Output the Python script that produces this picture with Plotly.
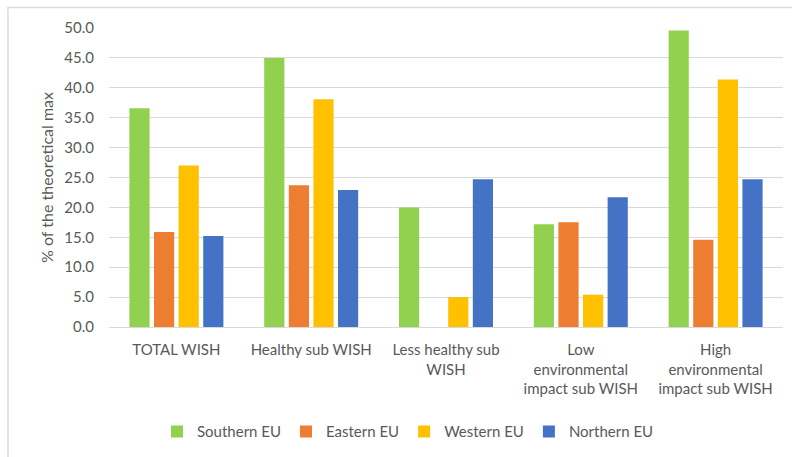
import plotly.graph_objects as go

categories = ["TOTAL WISH", "Healthy sub WISH", "Less healthy sub<br>WISH",
              "Low<br>environmental<br>impact sub WISH", "High<br>environmental<br>impact sub WISH"]
series_names = ["Southern EU", "Eastern EU", "Western EU", "Northern EU"]
southern = [36.6, 45.0, 20.0, 17.2, 49.6]
eastern = [15.9, 23.7, 0.0, 17.5, 14.6]
western = [27.0, 38.1, 5.0, 5.4, 41.4]
northern = [15.2, 22.9, 24.7, 21.7, 24.7]
colors = ["#92D050", "#ED7D31", "#FFC000", "#4472C4"]
y_ticks = [0, 5, 10, 15, 20, 25, 30, 35, 40, 45, 50]

FONT = "Lato, Open Sans, sans-serif"
TXT = "#595959"

fig = go.Figure()
for name, vals, col in zip(series_names, [southern, eastern, western, northern], colors):
    fig.add_trace(go.Bar(name=name, x=categories, y=vals, marker=dict(color=col, line=dict(width=0))))

# plot area: x 109..783, y 28..327.5 (px)
W, H = 674.0, 299.5
fx = lambda px: (px - 109) / W
fy = lambda py: (327.5 - py) / H

fig.update_layout(
    width=792, height=457,
    barmode="group", bargap=0.27, bargroupgap=0.18,
    paper_bgcolor="white", plot_bgcolor="white",
    margin=dict(l=109, r=9, t=28, b=129.5, autoexpand=False),
    font=dict(family=FONT, size=15, color=TXT),
    legend=dict(orientation="h", x=fx(157), xanchor="left", y=fy(416), yanchor="top",
                font=dict(size=15, color=TXT), itemwidth=30, traceorder="normal"),
    xaxis=dict(showgrid=False, ticks="", tickfont=dict(size=15, color=TXT), showline=False,
               ticklabelstandoff=12, automargin=False),
    yaxis=dict(range=[0, 50], tickvals=y_ticks, ticktext=[f"{v:.1f}" for v in y_ticks],
               showgrid=True, gridcolor="#D9D9D9", gridwidth=1, zeroline=True,
               zerolinecolor="#D9D9D9", zerolinewidth=1, ticks="", ticklen=0,
               tickfont=dict(size=15, color=TXT), ticklabelstandoff=14, automargin=False,
               title=dict(text="% of the theoretical max", font=dict(size=16, color=TXT), standoff=6)),
    shapes=[dict(type="path", xref="paper", yref="paper",
                 path=f"M {fx(8)},{fy(460)} L {fx(8)},{fy(7.5)} L {fx(795)},{fy(7.5)}",
                 line=dict(color="#DCDCDC", width=1.5))],
)
fig.write_html("out.html")
